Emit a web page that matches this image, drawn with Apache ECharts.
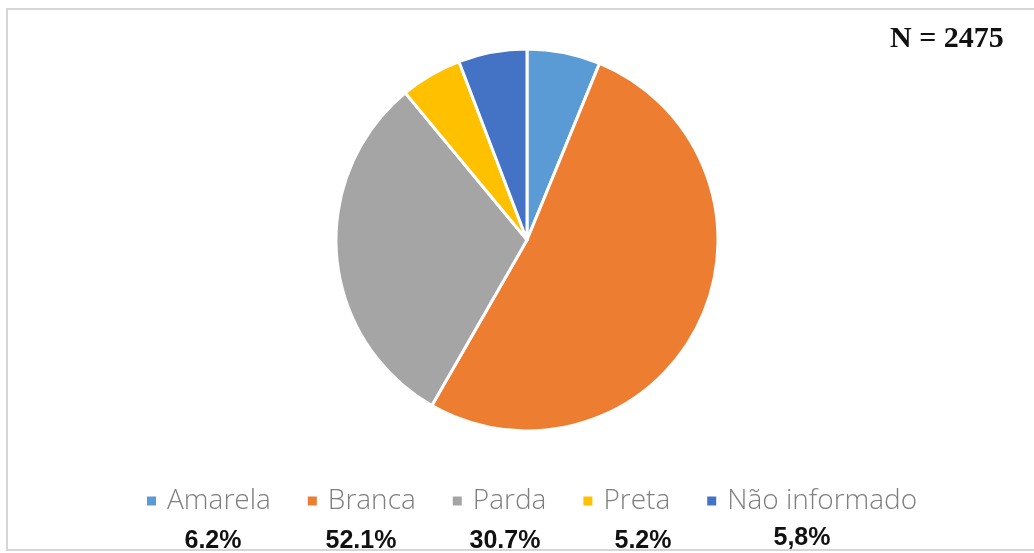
<!DOCTYPE html>
<html>
<head>
<meta charset="utf-8">
<script src="https://cdn.jsdelivr.net/npm/echarts@6/dist/echarts.min.js"></script>
<style>
  html, body { margin: 0; padding: 0; background: #fff; }
  #chart { width: 1034px; height: 553px; }
</style>
</head>
<body>
<div id="chart"></div>
<script>
const categories = ['Amarela', 'Branca', 'Parda', 'Preta', 'Não informado'];
const values = [6.2, 52.1, 30.7, 5.2, 5.8];
const percentLabels = ['6.2%', '52.1%', '30.7%', '5.2%', '5,8%'];
const colors = ['#5B9BD5', '#ED7D31', '#A5A5A5', '#FFC000', '#4472C4'];
const totalLabel = 'N = 2475';

const labelX = [213, 361, 505, 643, 802];
const labelY = [541, 541, 541, 541, 538];

const chart = echarts.init(document.getElementById('chart'), null, { renderer: 'canvas' });

const graphics = [
  {
    type: 'rect', z: 100, silent: true,
    shape: { x: 7, y: 9, width: 1040, height: 541 },
    style: { fill: 'none', stroke: '#d6d6d6', lineWidth: 2 }
  },
  {
    type: 'text', left: 890, top: 24, z: 10,
    style: { text: totalLabel, font: 'bold 30px "Liberation Serif", "DejaVu Serif", serif', fill: '#111' }
  }
];
percentLabels.forEach((t, i) => {
  graphics.push({
    type: 'text', x: labelX[i], y: labelY[i], z: 10,
    style: {
      text: t, font: 'bold 25px "Liberation Sans", Arial, sans-serif', fill: '#111',
      align: 'center', verticalAlign: 'middle'
    }
  });
});

chart.setOption({
  animation: false,
  color: colors,
  graphic: graphics,
  legend: {
    data: categories,
    left: 140,
    top: 482,
    icon: 'rect',
    itemWidth: 11,
    itemHeight: 11,
    itemGap: 35,
    textStyle: { fontSize: 28, color: '#7f7f7f', fontFamily: 'Open Sans', fontWeight: 300, padding: [0, 0, 0, 5] }
  },
  series: [{
    type: 'pie',
    center: [527, 240],
    radius: [0, 191],
    startAngle: 90,
    clockwise: true,
    label: { show: false },
    labelLine: { show: false },
    itemStyle: { borderColor: '#ffffff', borderWidth: 3 },
    emphasis: { disabled: true },
    data: categories.map((c, i) => ({ name: c, value: values[i] }))
  }]
});
</script>
</body>
</html>
